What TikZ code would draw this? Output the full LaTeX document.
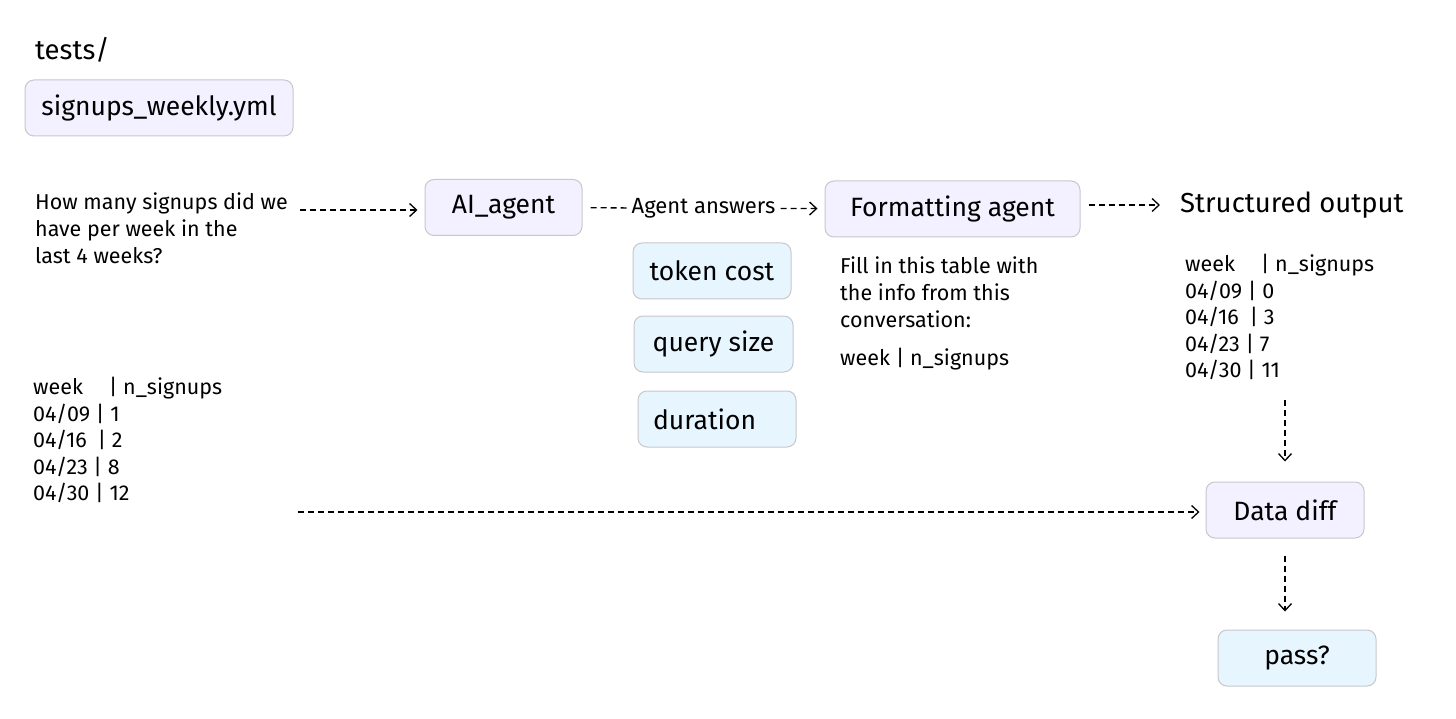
\documentclass[tikz,border=0pt]{standalone}
\usepackage{fontspec}
\setmainfont{Fira Sans}
\usetikzlibrary{arrows.meta}
\definecolor{boxviolet}{HTML}{F3F0FF}
\definecolor{boxblue}{HTML}{E7F5FF}
\definecolor{boxline}{HTML}{C8C8CC}
\tikzset{
	box/.style={draw=boxline, line width=1pt, rounded corners=9pt, minimum height=56pt, font=\fontsize{26.5}{30}\selectfont},
	agentbox/.style={box, fill=boxviolet},
	metricbox/.style={box, fill=boxblue},
	flow/.style={draw, line width=1.3pt, dash pattern=on 6pt off 4pt, -{Straight Barb[length=7pt,width=13pt]}},
	plain/.style={font=\fontsize{21.5}{27}\selectfont, align=left, inner sep=0pt},
	tbl/.style={font=\fontsize{21.5}{26.5}\selectfont, align=left, inner sep=0pt},
	title/.style={font=\fontsize{27.5}{30}\selectfont, inner sep=0pt},
}
\begin{document}
\begin{tikzpicture}[x=1pt, y=-1pt]
		%%%%% START %%%%%
		\useasboundingbox[fill=white] (0, 0) rectangle (1456, 719);
		
		\node[title, anchor=base west] (dir) at (35, 60) {tests/};
		\node[agentbox, minimum width=268pt] (yml) at (159, 108) {signups\_weekly.yml};
		
		\node[plain, anchor=north west] (question) at (35, 193) {How many signups did we\\have per week in the\\last 4 weeks?};
		\coordinate (qend) at (300, 210);
		
		\node[agentbox, minimum width=157pt] (ai) at (503.5, 207.5) {AI\_agent};
		\node[agentbox, minimum width=255pt] (fmt) at (952.5, 209) {Formatting agent};
		\node[title, anchor=west] (out) at (1180, 205) {Structured output};
		
		\node[metricbox, minimum width=158pt] (cost) at (712, 271) {token cost};
		\node[metricbox, minimum width=159pt] (size) at (713.5, 344) {query size};
		\node[metricbox, minimum width=158pt, text width=128pt, align=left] (dur) at (717, 419) {duration};
		
		\node[plain, anchor=north west] (prompt) at (840, 257) {Fill in this table with\\the info from this\\conversation:\\[11pt]week | n\_signups};
		
		\node[tbl, anchor=north west] (outtab) at (1185, 254) {week\hspace{1.2em}| n\_signups\\04/09 | 0\\04/16\enspace| 3\\04/23 | 7\\04/30 | 11};
		\coordinate (outend) at (1285, 400);
		
		\node[tbl, anchor=north west] (expected) at (33, 377) {week\hspace{1.2em}| n\_signups\\04/09 | 1\\04/16\enspace| 2\\04/23 | 8\\04/30 | 12};
		\coordinate (expend) at (298, 512);
		
		\node[agentbox, minimum width=158pt] (diff) at (1285, 510) {Data diff};
		\node[metricbox, minimum width=158pt] (pass) at (1297, 658) {pass?};
		
		% connectors
		\draw[flow, shorten >=7pt] (qend) -- (ai.west |- qend);
		\draw[flow, shorten <=8pt, shorten >=7pt] (ai) -- node[fill=white, inner sep=2pt, font=\fontsize{22}{25}\selectfont] {Agent answers} (fmt);
		\draw[flow, shorten <=8pt, shorten >=20pt] (fmt.east |- out) -- (out.west);
		\draw[flow, shorten >=20pt] (outend) -- (diff);
		\draw[flow, shorten >=6pt] (expend) -- (diff.west |- expend);
		\draw[flow, shorten <=17pt, shorten >=18pt] (diff.south) -- (diff.south |- pass.north);
		%%%%% END %%%%%
	\end{tikzpicture}
\end{document}
